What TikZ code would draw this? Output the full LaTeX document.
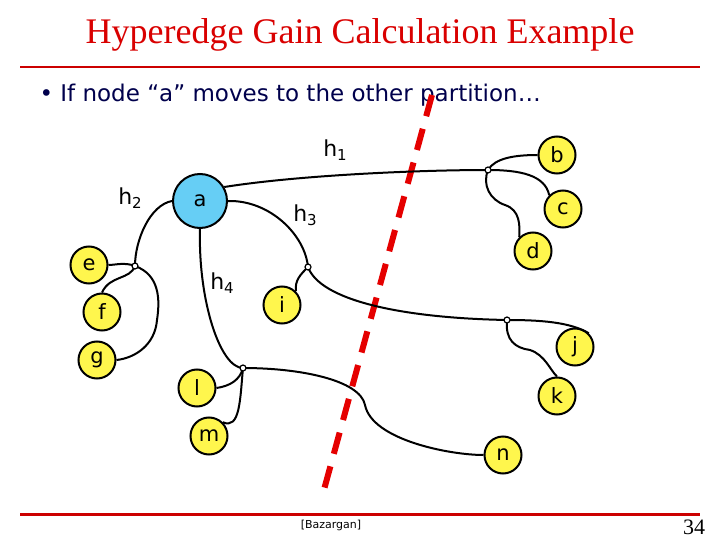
\documentclass[tikz,border=0pt]{standalone}
\usepackage{fontspec}
\setmainfont{Liberation Serif}
\newfontfamily\tah{DejaVu Sans}
\newcommand{\hs}[1]{h\raisebox{-4pt}{\fontsize{15}{15}\selectfont #1}}
\begin{document}
\begin{tikzpicture}[x=1pt,y=-1pt,
 vtx/.style={circle,draw,line width=2pt,fill=yellow!70!white,minimum size=37pt,inner sep=0pt,font=\tah\fontsize{21}{21}\selectfont},
 big/.style={vtx,fill=cyan!60!white,minimum size=54pt},
 lbl/.style={font=\tah\fontsize{22}{22}\selectfont},
 ed/.style={line width=2pt},
 jn/.style={inner sep=0pt,minimum size=0pt}]
\useasboundingbox (0,0) rectangle (720,540);
\node[font=\fontsize{36}{36}\selectfont,text=red!85!black] (title) at (360,35) {Hyperedge Gain Calculation Example};
\fill[red!80!black] (20,66) rectangle (700,68.5);
\node[anchor=west,font=\tah\fontsize{23}{23}\selectfont,text=blue!30!black] (bul) at (36,95) {\textbullet\ If node “a” moves to the other partition…};
\fill[red!80!black] (20,513) rectangle (700,515.5);
\node[font=\tah\fontsize{11}{11}\selectfont] (ref) at (331,525) {[Bazargan]};
\node[font=\fontsize{22}{22}\selectfont] (pg) at (694,527) {34};
\draw[red!90!black,line width=6pt,dash pattern=on 22pt off 13pt] (432,95) -- (322,497);
\node[big] (a) at (200,201) {a};
\foreach \n/\x/\y in {e/89/265,f/102/312,g/97/360,i/282/305,l/197/388,m/209/436,b/557/155,c/563/209,d/533/251,j/575/347,k/557/396,n/503/455}
  \node[vtx] (\n) at (\x,\y) {\n};
\coordinate (j1) at (488,170);
\coordinate (j2) at (135,266);
\coordinate (j3) at (308,267);
\coordinate (j4) at (243,368);
\coordinate (j5) at (507,320);
% h1
\draw[ed] (a.30) .. controls (300,175) and (420,170) .. (j1);
\draw[ed] (j1) .. controls (495,158) and (515,155) .. (b.west);
\draw[ed] (j1) .. controls (520,170) and (545,175) .. (c.north west);
\draw[ed] (j1) .. controls (482,185) and (490,200) .. (505,205) .. controls (520,210) and (520,225) .. (d.north west);
% h2
\draw[ed] (a.west) .. controls (150,205) and (135,240) .. (j2);
\draw[ed] (e.east) .. controls (115,265) and (125,262) .. (j2);
\draw[ed] (j2) .. controls (130,280) and (110,275) .. (f.north);
\draw[ed] (j2) .. controls (160,275) and (160,300) .. (157,320) .. controls (155,345) and (135,358) .. (g.east);
% h3
\draw[ed] (a.east) .. controls (270,200) and (305,235) .. (j3);
\draw[ed] (j3) .. controls (300,275) and (295,280) .. (i.north east);
\draw[ed] (j3) .. controls (320,300) and (400,318) .. (j5);
\draw[ed] (j5) .. controls (540,320) and (570,322) .. (j.north east);
\draw[ed] (j5) .. controls (505,340) and (515,348) .. (530,350) .. controls (545,355) and (550,370) .. (k.north);
% h4
\draw[ed] (a.south) .. controls (198,300) and (220,368) .. (j4);
\draw[ed] (j4) .. controls (240,380) and (230,386) .. (l.east);
\draw[ed] (j4) .. controls (240,400) and (240,430) .. (m.north east);
\draw[ed] (j4) .. controls (300,368) and (360,380) .. (365,405) .. controls (372,440) and (450,455) .. (n.west);
\foreach \c in {j1,j2,j3,j4,j5} \draw[line width=1.2pt,fill=white] (\c) circle (3pt);
\node[lbl] (l1) at (335,150) {\hs1};
\node[lbl] (l2) at (130,198) {\hs2};
\node[lbl] (l3) at (305,215) {\hs3};
\node[lbl] (l4) at (222,283) {\hs4};
\end{tikzpicture}
\end{document}
